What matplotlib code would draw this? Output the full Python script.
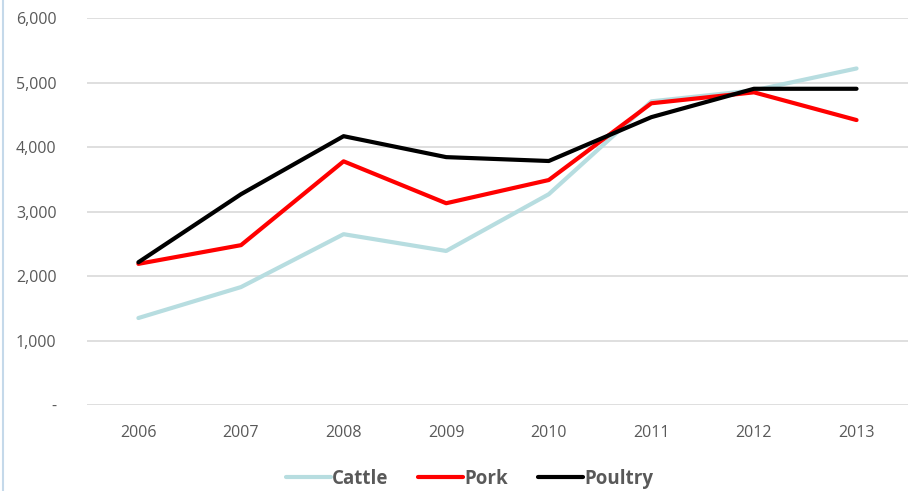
import matplotlib
matplotlib.use("Agg")
import matplotlib.pyplot as plt
from matplotlib.ticker import FuncFormatter

years = ["2006", "2007", "2008", "2009", "2010", "2011", "2012", "2013"]
cattle = [1350, 1830, 2650, 2390, 3270, 4710, 4880, 5220]
pork = [2190, 2480, 3780, 3130, 3490, 4680, 4850, 4420]
poultry = [2215, 3270, 4170, 3845, 3785, 4465, 4905, 4905]

plt.rcParams['font.family'] = ['Open Sans', 'DejaVu Sans']

fig = plt.figure(figsize=(9.17, 4.91), dpi=100)
ax = fig.add_axes([0.095, 0.175, 0.895, 0.788])

x = range(len(years))
ax.plot(x, cattle, color='#b7dde0', lw=3, label='Cattle', solid_capstyle='round')
ax.plot(x, pork, color='#ff0000', lw=3, label='Pork', solid_capstyle='round')
ax.plot(x, poultry, color='#000000', lw=3, label='Poultry', solid_capstyle='round')

ax.set_xlim(-0.5, 7.5)
ax.set_ylim(0, 6000)
ax.set_yticks(range(0, 6001, 1000))
ax.yaxis.set_major_formatter(FuncFormatter(lambda v, p: '-' if v == 0 else f"{int(v):,}"))
ax.set_xticks(list(x))
ax.set_xticklabels(years)
ax.tick_params(length=0, labelsize=11.5, labelcolor='#595959', pad=14)
ax.tick_params(axis='y', pad=22)
ax.grid(axis='y', color='#d9d9d9', lw=1.2)
ax.set_axisbelow(True)
for s in ax.spines.values():
    s.set_visible(False)

leg = fig.legend(loc='lower center', bbox_to_anchor=(0.512, -0.03), ncol=3, frameon=False,
                 handlelength=2.4, handletextpad=0.05, columnspacing=1.6,
                 prop={'size': 13.5, 'weight': 'bold'})
for t in leg.get_texts():
    t.set_color('#595959')

# left border line
fig.add_artist(plt.Line2D([0.003, 0.003], [0, 1], color='#c5d9ea', lw=1.5))

fig.savefig('out.png', dpi=100)
